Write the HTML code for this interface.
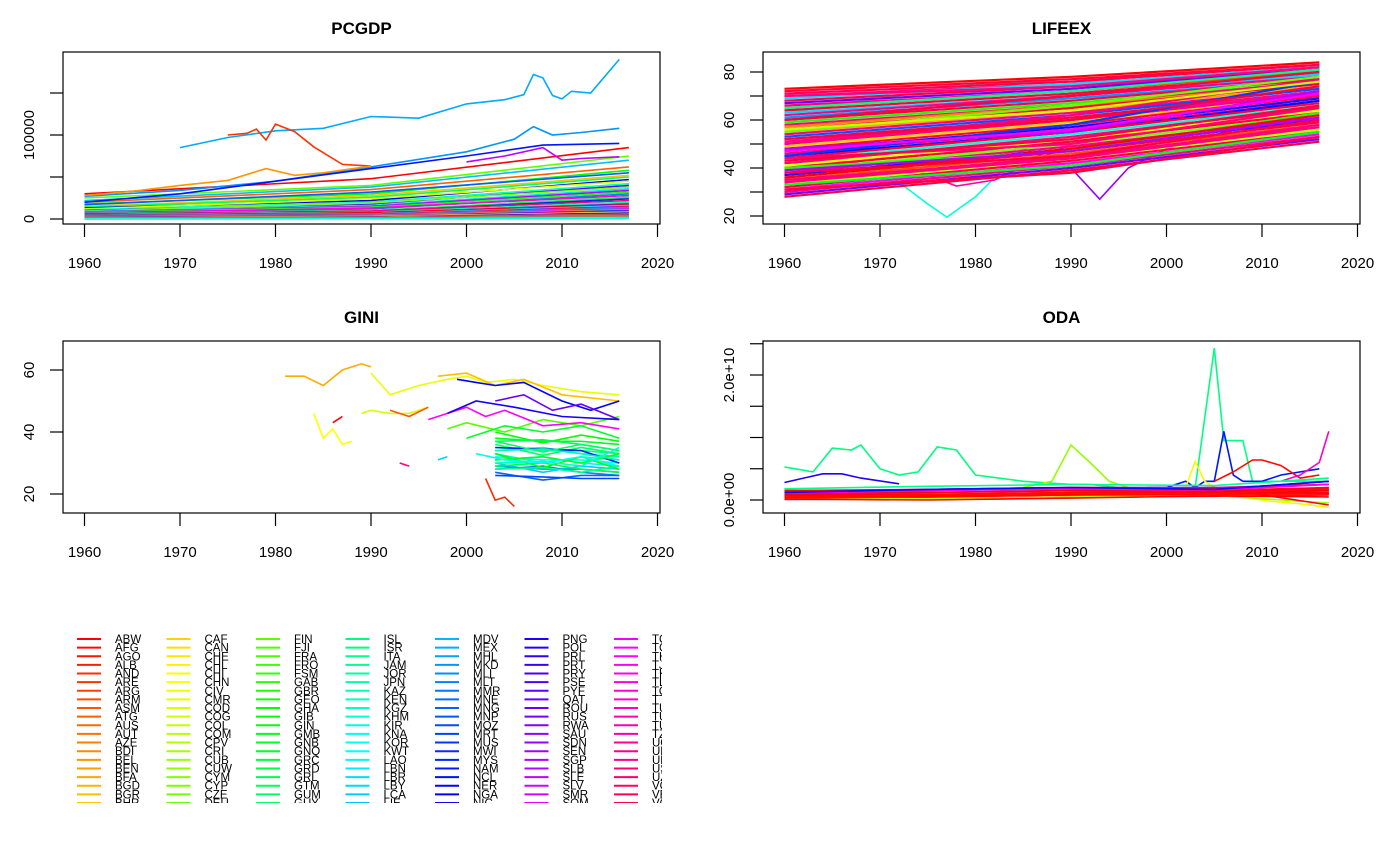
<!DOCTYPE html>
<html><head><meta charset="utf-8"><style>
body{margin:0;background:#fff;}
svg{display:block;font-family:"Liberation Sans",Arial,sans-serif;}
</style></head><body>
<svg id="c" width="1400" height="866" xmlns="http://www.w3.org/2000/svg"></svg>
<script>
// ---------- DATA ----------
const years = [1960,1970,1980,1990,2000,2010,2020];
const pcgdpTicks = [0,50000,100000,150000];
const pcgdpTickLabels = ["0","","100000",""];
const lifeTicks = [20,30,40,50,60,70,80];
const lifeTickLabels = ["20","","40","","60","","80"];
const giniTicks = [20,40,60];
const odaTicks = [0,5,10,15,20,25];
const odaTickLabels = ["0.0e+00","","","","2.0e+10",""];
// PCGDP special series (year, value)
const pcgdpSpecialX = [
 [1970,1975,1980,1985,1990,1995,2000,2004,2006,2007,2008,2009,2010,2011,2013,2016],
 [1960,1970,1980,1990,2000,2005,2007,2009,2012,2016],
 [1975,1977,1978,1979,1980,1982,1984,1987,1990],
 [1960,1970,1980,1990,2000,2008,2016],
 [1960,1965,1970,1975,1979,1982,1985,1990],
 [2000,2004,2008,2010,2012,2016]];
const pcgdpSpecialY = [
 [85000,97000,105000,108000,122000,120000,137000,142000,148000,172000,168000,147000,143000,152000,150000,190000],
 [27000,34000,45000,62000,80000,95000,110000,100000,103000,108000],
 [100000,102000,107000,94000,113000,104000,86000,65000,63000],
 [20000,30000,45000,60000,75000,88000,90000],
 [28000,33000,40000,46000,60000,52000,55000,63000],
 [68000,75000,85000,70000,72000,74000]];
const pcgdpSpecialHue = [200,205,12,235,35,285];
const pcgdpS = [30000,25000,22000,20000,18000,17000,15000,14000,13000,12000,11000,10000,9500,9000,8500,8000,7500,7000,6500,6000,5500,5000,4500,4000,3800,3500,3200,3000,2800,2500,2300,2000,1800,1500,1300,1200,1000,900,800,700,600,500,400,300,300,200,200,100];
const pcgdpM = [48000,40000,38000,35000,30000,32000,28000,26000,22000,24000,20000,18000,19000,16000,15000,14000,12000,13000,10000,9000,9500,8000,7000,7500,6000,5500,5000,4500,4000,3800,3500,3200,3000,2500,2200,2000,1800,1500,1400,1200,1000,900,800,700,600,500,400,300];
const pcgdpE = [85000,75000,70000,62000,58000,55000,52000,50000,47000,45000,42000,40000,38000,36000,34000,32000,30000,28000,26000,24000,22000,20000,18000,17000,16000,15000,14000,13000,12000,11000,10000,9000,8000,7000,6000,5500,5000,4500,4000,3500,3000,2500,2000,1500,1200,1000,800,600];
// LIFEEX
const lifeS = [73,72,71,70,69,68,67,66,65,64,63,62,61,60,59,58,57,56,55,54,53,52,51,50,49,48,47,46,45,44,43,42,41,40,39,38,37,36,35,34,33,32,31,30,29,28,45,50,55,60,65,70,48,52,56,44,40,38,36,34,47,43,39,35,33,31];
const lifeM = [78,77,76,75,75,74,73,72,72,71,70,70,69,68,67,66,66,65,64,63,62,61,60,60,59,58,57,56,55,55,54,53,52,51,50,49,48,47,46,45,44,43,42,41,40,39,58,62,66,70,72,74,55,60,64,50,47,45,48,44,56,52,47,44,41,38];
const lifeE = [84,83,83,82,82,81,81,80,80,79,79,78,77,77,76,76,75,75,74,73,73,72,72,71,70,70,69,68,68,67,66,65,64,63,62,61,60,59,58,57,56,55,54,53,52,51,76,77,78,80,81,82,72,74,76,65,63,60,62,58,71,66,61,57,55,53];
const lifeSpecialX = [[1960,1970,1975,1977,1980,1985,1990,2016],[1960,1985,1990,1993,1996,2000,2016],[1960,1973,1978,1982,1990,2016],[1960,1975,1980,1990,2016]];
const lifeSpecialY = [[42,40,25,19.5,28,48,52,68],[42,48,40,27,40,48,66],[45,40,32.5,35,50,70],[63,72,75,76,79]];
const lifeSpecialHue = [172,275,320,155];
// GINI
const giniX = [
 [1981,1983,1985,1987,1989,1990],[1990,1992,1995,1998,2000,2002,2005,2008,2012,2016],[1993,1994],[1997,2000,2003,2006,2010,2016],
 [1984,1985,1986,1987,1988],[1986,1987],[1989,1990,1992,1994,1996],[1997,1998],[1998,2000,2004,2008,2012,2016],
 [1999,2001,2003,2006,2010,2013,2016],[2002,2003,2004,2005],[2003,2006,2009,2012,2016],[1996,1998,2000,2002,2004,2008,2012,2016],
 [2000,2004,2008,2012,2016],[1992,1994,1996],[2001,2004,2008,2012,2016],[1998,2001,2005,2010,2016]];
const giniY = [
 [58,58,55,60,62,61],[59,52,55,57,58,56,57,55,53,52],[30,29],[58,59,55,57,52,50],
 [46,38,41,36,37],[43,45],[46,47,46,46,48],[31,32],[41,43,40,44,42,45],
 [57,56,55,56,50,47,50],[25,18,19,16],[50,52,47,49,44],[44,46,48,45,47,42,43,41],
 [38,42,40,42,38],[47,45,48],[33,31,30,32,29],[46,50,48,45,44]];
const giniHue = [40,65,330,45,60,0,70,190,100,240,10,265,300,130,20,175,245];
const giniBandS = [40,38,37,36,35,34,33,32,31,30,29,28,27,26,35,33,31,29,37,28,34,30];
const giniBandE = [37,36,34,33,33,32,31,30,29,28,27,26,26,25,30,28,33,27,34,29,31,35];
// ODA (units of 1e9)
const odaSpecialX = [[1960,1963,1965,1967,1968,1970,1972,1974,1976,1978,1980,1985,1990,1992,1995,2000,2003,2005,2006,2007,2008,2009,2012,2017],[1998,2000,2002,2003,2004,2005,2006,2007,2008,2010,2012,2016],[1985,1988,1990,1992,1994,1996],[2002,2003,2004,2005],[2005,2007,2009,2010,2012,2014,2016],[2012,2014,2016,2017],[1960,1962,1964,1966,1968,1972],[2008,2011,2014,2017]];
const odaSpecialY = [[5.3,4.5,8.3,8,8.8,5,4,4.5,8.5,8,4,3,2.5,2.5,2,2,2,24.3,9.5,9.5,9.5,3,3,3],[2,2,3,2,3,3,11,4,3,3,4,5],[2,3,8.8,6,3,2],[2,6.2,3,2],[3,4.5,6.4,6.4,5.5,3.5,4],[3,4,6,11],[2.8,3.5,4.2,4.2,3.5,2.6],[0.5,-0.2,-0.6,-1.2]];
const odaSpecialHue = [150,235,85,58,2,315,248,58];
const odaS = [0.5,1,0.2,1.5,0.8,0.1,1.2,0.5,0.4,1.8,1,0.6,0.2,1.4,0.9,0.3,1.5,0.5,1.1,0.15,0.8,1.2,0.45,0.55];
const odaM = [1,1.5,0.5,2,1.2,0.5,1.8,0.8,1,2.5,1.5,1,0.5,2,1.2,0.8,1.5,1,1.8,0.3,1,2,0.8,1.1];
const odaE = [2,3,1,2.5,1.5,0.8,3,1.5,1.2,3.5,2,1.5,-0.5,2.5,1.8,1,-0.8,1.2,2.5,0.5,1.5,3,1,1.8];
// Legend
const legendCols = [
 ["ABW","AFG","AGO","ALB","AND","ARE","ARG","ARM","ASM","ATG","AUS","AUT","AZE","BDI","BEL","BEN","BFA","BGD","BGR","BHR"],
 ["CAF","CAN","CHE","CHL","CHI","CHN","CIV","CMR","COD","COG","COL","COM","CPV","CRI","CUB","CUW","CYM","CYP","CZE","DEU"],
 ["FIN","FJI","FRA","FRO","FSM","GAB","GBR","GEO","GHA","GIB","GIN","GMB","GNB","GNQ","GRC","GRD","GRL","GTM","GUM","GUY"],
 ["ISL","ISR","ITA","JAM","JOR","JPN","KAZ","KEN","KGZ","KHM","KIR","KNA","KOR","KWT","LAO","LBN","LBR","LBY","LCA","LIE"],
 ["MDV","MEX","MHL","MKD","MLI","MLT","MMR","MNE","MNG","MNP","MOZ","MRT","MUS","MWI","MYS","NAM","NCL","NER","NGA","NIC"],
 ["PNG","POL","PRI","PRT","PRY","PSE","PYF","QAT","ROU","RUS","RWA","SAU","SDN","SEN","SGP","SLB","SLE","SLV","SMR","SOM"],
 ["TCD","TGO","THA","TJK","TKM","TLS","TON","TTO","TUN","TUR","TUV","TZA","UGA","UKR","URY","USA","UZB","VCT","VEN","VGB"]];

// ---------- DRAW ----------
const NS="http://www.w3.org/2000/svg";
const svg=document.getElementById('c');
function el(t,a,p){const e=document.createElementNS(NS,t);for(const k in a)e.setAttribute(k,a[k]);(p||svg).appendChild(e);return e;}
function hsl(h){return `hsl(${h},100%,50%)`;}
function panel(name,left,top,bottom,title,yMin,yMax,yPxMin,yPxMax,ticks,tickLabels){
  const W=597;
  const g=el('g',{});
  
  
  const xs=y=>left+21.5+(y-1960)*9.55;
  const ys=v=>yPxMin-(v-yMin)*(yPxMin-yPxMax)/(yMax-yMin);
  const clipId='clip'+name;
  const cp=el('clipPath',{id:clipId},g);el('rect',{x:left,y:top,width:W,height:bottom-top},cp);
  const lines=el('g',{'clip-path':`url(#${clipId})`},g);
  
  
  const box=el('rect',{x:left,y:top,width:W,height:bottom-top,fill:'none',stroke:'#000','stroke-width':1.2},g);
  
  
  const t=el('text',{x:left+W/2,y:top-18,'text-anchor':'middle','font-size':17,'font-weight':'bold'},g);t.textContent=title;
  
  
  years.forEach(yr=>{el('line',{x1:xs(yr),x2:xs(yr),y1:bottom,y2:bottom+13,stroke:'#000','stroke-width':1.2},g);
    const l=el('text',{x:xs(yr),y:bottom+44,'text-anchor':'middle','font-size':15},g);l.textContent=yr;
    
    });
  ticks.forEach((v,i)=>{el('line',{x1:left-13,x2:left,y1:ys(v),y2:ys(v),stroke:'#000','stroke-width':1.2},g);
    const lab=tickLabels?tickLabels[i]:String(v);
    if(lab){const l=el('text',{x:left-29,y:ys(v),'text-anchor':'middle','font-size':15,transform:`rotate(-90 ${left-29} ${ys(v)})`},g);l.textContent=lab;
    
    }});
  return {lines,xs,ys};
}
function line(p,X,Y,col,w){
  const pts=X.map((x,i)=>p.xs(x).toFixed(1)+','+p.ys(Y[i]).toFixed(1)).join(' ');
  const e=el('polyline',{points:pts,fill:'none',stroke:col,'stroke-width':w||1.6},p.lines);
  
  
}
// PCGDP
const p1=panel('pcgdp',63,52,224,'PCGDP',0,100000,219,135,pcgdpTicks,pcgdpTickLabels);
pcgdpS.forEach((s,i)=>line(p1,[1960,1990,2017],[s,pcgdpM[i],pcgdpE[i]],hsl((i*360/pcgdpS.length+ (i%3)*90)%360)));
pcgdpSpecialX.forEach((X,i)=>line(p1,X,pcgdpSpecialY[i],hsl(pcgdpSpecialHue[i])));
// LIFEEX
const p2=panel('lifeex',763,52,224,'LIFEEX',20,80,216,72,lifeTicks,lifeTickLabels);
lifeSpecialX.forEach((X,i)=>line(p2,X,lifeSpecialY[i],hsl(lifeSpecialHue[i])));
function lifeHue(i){ const k=i%4; if(k===0) return (i*137)%360; if(k===1) return 345; if(k===2) return (i*71+200)%360; return 330; }
lifeS.forEach((s,i)=>line(p2,[1960,1990,2016],[s,lifeM[i],lifeE[i]],hsl(lifeHue(i)),2.2));
// GINI
const p3=panel('gini',63,341,513,'GINI',20,60,494,370,giniTicks,null);
giniBandS.forEach((s,i)=>line(p3,[2003,2008,2012,2016],[s,(s+giniBandE[i])/2+2*((i%3)-1),s-1,giniBandE[i]],hsl(120+(i*8)%120)));
giniX.forEach((X,i)=>line(p3,X,giniY[i],hsl(giniHue[i])));
// ODA
const p4=panel('oda',763,341,513,'ODA',0,20,500,375,odaTicks,odaTickLabels);
odaSpecialX.forEach((X,i)=>line(p4,X,odaSpecialY[i],hsl(odaSpecialHue[i])));
odaS.forEach((s,i)=>line(p4,[1960,1975,1990,2005,2017],[s,odaM[i]-0.3,odaM[i],s+0.5,odaE[i]],hsl(i%3===0?(i*97)%360:(340+i)%360)));
// Legend
const lg=el('g',{});


const lcp=el('clipPath',{id:'lclip'},lg);el('rect',{x:60,y:630,width:602,height:173},lcp);
const lgi=el('g',{'clip-path':'url(#lclip)'},lg);
const nTot=legendCols.length*legendCols[0].length;
legendCols.forEach((col,c)=>col.forEach((code,r)=>{
  const idx=c*col.length+r;const y=639+r*8.63;const x=77+c*89.5;
  const hue=(idx/nTot)*345;
  const g=el('g',{},lgi);
  
  
  el('line',{x1:x,x2:x+24,y1:y,y2:y,stroke:hsl(hue),'stroke-width':2},g);
  const t=el('text',{x:x+38,y:y+4,'font-size':11.5},g);t.textContent=code;
}));
</script>
</body></html>
